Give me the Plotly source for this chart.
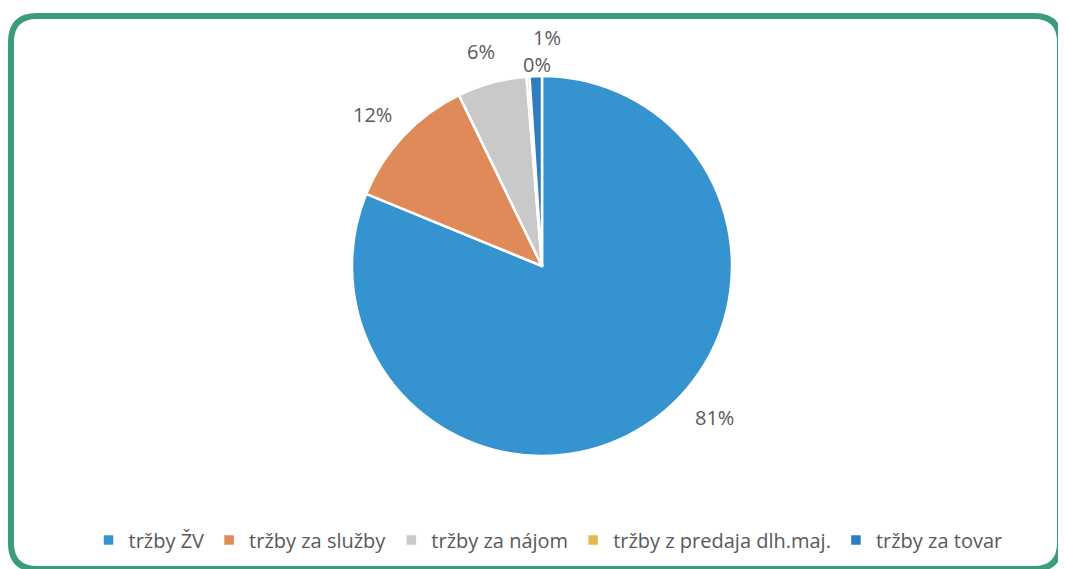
import plotly.graph_objects as go

categories = ["tržby ŽV", "tržby za služby", "tržby za nájom", "tržby z predaja dlh.maj.", "tržby za tovar"]
values = [81.2, 11.6, 5.9, 0.25, 1.05]
colors = ["#3593cf", "#e08a5a", "#c9c9c9", "#e8b64a", "#2f7cc0"]

# label anchor positions (pixels in figure, from top-left), one per category
label_px = [(706, 409), (364, 107), (473, 44), (529, 56), (539, 29)]

# the page body adds an 8px margin, so the figure is 8px smaller than the window
W, H = 1058, 561
FONT = "Open Sans, Noto Sans, sans-serif"

fig = go.Figure()
fig.add_trace(go.Pie(
    labels=categories,
    values=values,
    sort=False,
    direction="clockwise",
    rotation=0,
    marker=dict(colors=colors, line=dict(color="white", width=2.5)),
    textinfo="none",
    hoverinfo="label+percent",
    domain=dict(x=[344 / W, 724 / W], y=[(H - 448) / H, (H - 68) / H]),
    showlegend=True,
))

total = sum(values)
for v, (px, py) in zip(values, label_px):
    fig.add_annotation(
        x=px / W, y=1 - py / H, xref="paper", yref="paper",
        text=f"{round(v / total * 100)}%", showarrow=False,
        xanchor="center", yanchor="middle",
        font=dict(family=FONT, size=20, color="#595959"),
    )

# rounded green frame (paper coordinates, margins are zero)
x0, x1 = 3 / W, 1052 / W
y0, y1 = 1 - 561 / H, 1 - 8 / H
rx, ry = 26 / W, 26 / H
path = (f"M {x0+rx},{y1} L {x1-rx},{y1} Q {x1},{y1} {x1},{y1-ry} "
        f"L {x1},{y0+ry} Q {x1},{y0} {x1-rx},{y0} L {x0+rx},{y0} "
        f"Q {x0},{y0} {x0},{y0+ry} L {x0},{y1-ry} Q {x0},{y1} {x0+rx},{y1} Z")
fig.add_shape(type="path", xref="paper", yref="paper", path=path,
              line=dict(color="#3a9c78", width=6), fillcolor="rgba(0,0,0,0)")

fig.update_layout(
    width=W, height=H,
    margin=dict(l=0, r=0, t=0, b=0),
    paper_bgcolor="white",
    plot_bgcolor="white",
    font=dict(family=FONT, color="#595959"),
    legend=dict(orientation="h", x=540 / W, xanchor="center", y=1 - 532 / H, yanchor="middle",
                font=dict(size=20, color="#595959"), itemwidth=30, traceorder="normal"),
)

fig.write_html("out.html")
